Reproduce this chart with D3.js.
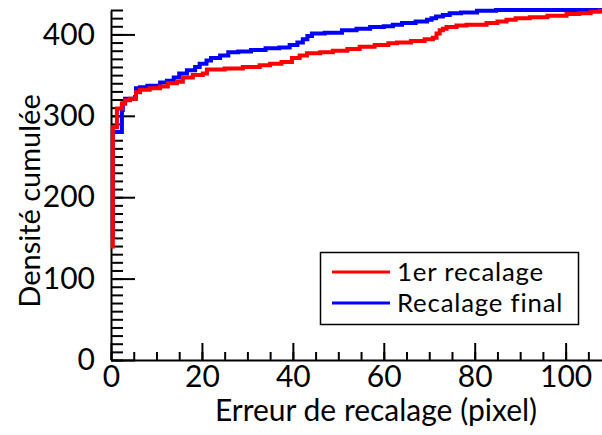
<!DOCTYPE html>
<html>
<head>
<meta charset="utf-8">
<script src="https://cdn.jsdelivr.net/npm/d3@7"></script>
<style>
  html, body { margin: 0; padding: 0; background: #fff; }
  svg { display: block; }
  text { font-family: Lato, "Open Sans", "DejaVu Sans", sans-serif; fill: #000; }
</style>
</head>
<body>
<svg id="chart" width="602" height="435"></svg>
<script>
// Cumulative count of samples vs. registration error, as step breakpoints [error, count]
const seriesNames = ["1er recalage", "Recalage final"];
const seriesColors = ["#ff0000", "#0000ff"];

const firstReg = [
  [0.4, 137], [0.4, 286], [1.3, 309], [2.4, 315], [3.1, 319], [4.2, 321],
  [5.5, 329], [6.4, 332], [8.5, 334], [10.8, 336], [12.5, 340], [14.5, 342],
  [15.8, 347], [18, 350], [20.2, 352], [21.1, 357], [25, 358], [29, 360],
  [32.7, 362], [35, 364], [37.5, 366], [39.8, 371], [41.5, 374], [43.1, 377],
  [46, 378], [48.8, 380], [52, 382], [54.7, 385], [58, 387], [61, 389],
  [62.9, 390], [66, 392], [69, 394], [70.8, 396], [71.6, 401], [72.3, 405],
  [73, 407], [73.8, 409], [76, 411], [78.2, 412], [82.6, 414], [85, 416],
  [87, 418], [89, 420], [92.1, 421], [96, 423], [100.2, 425], [103, 426],
  [105.5, 428], [107.5, 429], [108, 429]
];

const finalReg = [
  [0.4, 150], [0.4, 280], [2.4, 307], [2.6, 315], [3.1, 321], [5.3, 323],
  [5.5, 334], [6.4, 335], [8, 337], [10.8, 341], [12.3, 343], [13.8, 347],
  [15, 352], [16.7, 356], [18.5, 360], [19.5, 364], [21, 368], [22, 371],
  [24, 374], [25.8, 378], [28, 379], [30.8, 381], [34, 383], [37, 384],
  [39.3, 387], [41, 390], [42.2, 394], [43.2, 398], [44.2, 401], [47, 402],
  [50.8, 405], [54, 407], [57, 409], [60, 410], [62, 412], [64, 414],
  [67, 416], [69.5, 418], [70.5, 420], [71.5, 422], [73, 424], [74.5, 426],
  [77, 427], [80.5, 429], [84.7, 430], [108, 430]
];

const xMajorTicks = [0, 20, 40, 60, 80, 100];
const yMajorTicks = [0, 100, 200, 300, 400];

const xLabel = "Erreur de recalage (pixel)";
const yLabel = "Densité cumulée";

const svg = d3.select("#chart");
const margin = { left: 111, right: 0, top: 10, bottom: 75 };
const W = 602, H = 435;

const x = d3.scaleLinear().domain([0, 108]).range([margin.left, W - margin.right]);
const y = d3.scaleLinear().domain([0, 430]).range([H - margin.bottom, margin.top]);

// Y axis: inward ticks, major every 100, minor every 10
const yMinor = d3.axisLeft(y).tickValues(d3.range(0, 431, 10))
  .tickSizeInner(-12).tickSizeOuter(0).tickFormat("");
const yMajor = d3.axisLeft(y).tickValues(yMajorTicks)
  .tickSizeInner(-24).tickSizeOuter(0).tickPadding(16);

const gy = svg.append("g").attr("transform", `translate(${margin.left},0)`);
gy.call(yMinor);
const gyM = svg.append("g").attr("transform", `translate(${margin.left},0)`);
gyM.call(yMajor);
gyM.select(".domain").remove();

// X axis: inward ticks, major every 20, minor every 5
const xMinor = d3.axisBottom(x).tickValues(d3.range(0, 108, 5))
  .tickSizeInner(-8).tickSizeOuter(0).tickFormat("");
const xMajor = d3.axisBottom(x).tickValues(xMajorTicks)
  .tickSizeInner(-17).tickSizeOuter(0).tickPadding(6);

const gx = svg.append("g").attr("transform", `translate(0,${y(0)})`);
gx.call(xMinor);
const gxM = svg.append("g").attr("transform", `translate(0,${y(0)})`);
gxM.call(xMajor);
gxM.select(".domain").remove();

svg.selectAll(".domain").attr("stroke", "#000").attr("stroke-width", 2);
svg.selectAll(".tick line").attr("stroke", "#000").attr("stroke-width", 2);
svg.selectAll(".tick text").style("font-size", "30px").attr("fill", "#000");

// Step curves (final drawn first so the first registration sits on top)
const line = d3.line().x(d => x(d[0])).y(d => y(d[1])).curve(d3.curveStepAfter);
const plotData = [finalReg, firstReg];
const plotColors = [seriesColors[1], seriesColors[0]];
plotData.forEach((data, i) => {
  svg.append("path")
    .datum(data)
    .attr("fill", "none")
    .attr("stroke", plotColors[i])
    .attr("stroke-width", 4)
    .attr("d", line);
});

// Axis titles
svg.append("text")
  .attr("x", 376).attr("y", 421)
  .attr("text-anchor", "middle")
  .style("font-size", "30px")
  .text(xLabel);

svg.append("text")
  .attr("transform", "translate(40,201) rotate(-90)")
  .attr("text-anchor", "middle")
  .style("font-size", "29px")
  .text(yLabel);

// Legend
const legend = svg.append("g");
legend.append("rect")
  .attr("x", 320.5).attr("y", 252.5).attr("width", 258).attr("height", 72)
  .attr("fill", "#fff").attr("stroke", "#000").attr("stroke-width", 1.5);
seriesNames.forEach((name, i) => {
  const ly = 272 + i * 31;
  legend.append("line")
    .attr("x1", 332).attr("x2", 390).attr("y1", ly).attr("y2", ly)
    .attr("stroke", seriesColors[i]).attr("stroke-width", 3);
  legend.append("text")
    .attr("x", 397).attr("y", ly + 9)
    .style("font-size", "25.8px")
    .style("letter-spacing", "0.8px")
    .text(name);
});
</script>
</body>
</html>
